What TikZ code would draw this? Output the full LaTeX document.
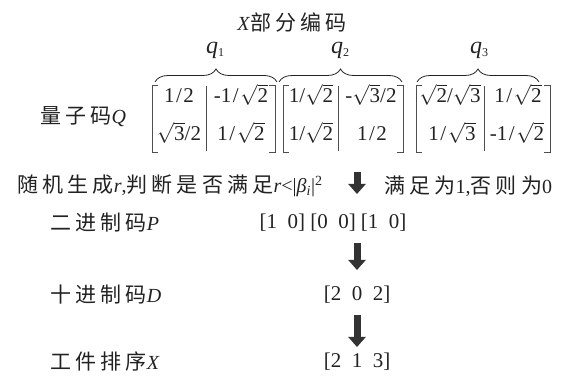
\documentclass[tikz,border=0pt]{standalone}
\usepackage{fontspec}
\setmainfont{Liberation Serif}
\newfontfamily\cjk[LetterSpace=20,Scale=1.05]{Noto Sans CJK SC}
\usetikzlibrary{decorations.pathreplacing,arrows.meta}
\definecolor{ink}{HTML}{222222}
\definecolor{arrowgray}{HTML}{333333}
\newcommand{\sq}[1]{$\sqrt{\mbox{#1}}$}
\newcommand{\sls}{\hspace{1.5pt}/\hspace{1.5pt}}
\begin{document}
\begin{tikzpicture}[x=1pt,y=-1pt,
  every node/.style={inner sep=0pt,text=ink},
  txt/.style={font=\fontsize{20}{22}\selectfont},
  val/.style={font=\fontsize{21}{24}\selectfont},
  ent/.style={font=\fontsize{21}{23}\selectfont,text height=13pt,text depth=3pt},
  ql/.style={font=\fontsize{24}{26}\selectfont},
  brk/.style={draw=ink!80,line width=0.7pt},
  brc/.style={draw=ink,line width=0.8pt,decorate,decoration={brace,amplitude=13pt}},
  bigarrow/.style={draw=arrowgray,line width=7pt,-{Triangle[width=17pt,length=10pt]}}]
\useasboundingbox (0,0) rectangle (571,379);
% title and q labels
\node[txt] (title) at (292,22) {\textit{X}{\cjk 部分编码}};
\node[ql] (q1) at (215,50) {\textit{q}{\fontsize{12}{12}\selectfont\raisebox{-3pt}{1}}};
\node[ql] (q2) at (340,50) {\textit{q}{\fontsize{12}{12}\selectfont\raisebox{-3pt}{2}}};
\node[ql] (q3) at (479,50) {\textit{q}{\fontsize{12}{12}\selectfont\raisebox{-3pt}{3}}};
% braces
\draw[brc] (155,82) -- (277,82);
\draw[brc] (279,82) -- (402,82);
\draw[brc] (417,82) -- (539,82);
% Q label
\node[txt,anchor=west] (qlab) at (40,117) {{\cjk 量子码}\textit{Q}};
% matrix 1
\draw[brk] (158,85) -- (152,85) -- (152,152) -- (158,152);
\draw[brk] (269,85) -- (275,85) -- (275,152) -- (269,152);
\draw[brk] (206,86) -- (206,151);
\node[ent] (m11) at (179,98) {1\sls 2};
\node[ent] (m12) at (241,98) {-1\sls\sq{2}};
\node[ent] (m13) at (179,136) {\sq{3}/2};
\node[ent] (m14) at (241,136) {1\sls\sq{2}};
% matrix 2
\draw[brk] (289,85) -- (283,85) -- (283,152) -- (289,152);
\draw[brk] (397,85) -- (403,85) -- (403,152) -- (397,152);
\draw[brk] (338,86) -- (338,151);
\node[ent] (m21) at (311,98) {1/\sq{2}};
\node[ent] (m22) at (371,98) {-\sq{3}/2};
\node[ent] (m23) at (311,136) {1/\sq{2}};
\node[ent] (m24) at (372,136) {1\sls 2};
% matrix 3
\draw[brk] (422,85) -- (416,85) -- (416,152) -- (422,152);
\draw[brk] (544,85) -- (550,85) -- (550,152) -- (544,152);
\draw[brk] (484,86) -- (484,151);
\node[ent] (m31) at (450,98) {\sq{2}/\sq{3}};
\node[ent] (m32) at (518,98) {1\sls\sq{2}};
\node[ent] (m33) at (452,136) {1\sls\sq{3}};
\node[ent] (m34) at (517,136) {-1\sls\sq{2}};
% step line
\node[txt,anchor=west] (rnd) at (17,186) {{\cjk 随机生成}\textit{r},{\cjk 判断是否满足}\textit{r}<|\textit{β}\textsubscript{\textit{i}}|\textsuperscript{2}};
\node[txt,anchor=west] (sat) at (384,186) {{\cjk 满足为}1,{\cjk 否则为}0};
% rows
\node[txt,anchor=west] (plab) at (50,223) {{\cjk 二进制码}\textit{P}};
\node[val] (pval) at (333,223) {[1\ \ 0] [0\ \ 0] [1\ \ 0]};
\node[txt,anchor=west] (dlab) at (50,295) {{\cjk 十进制码}\textit{D}};
\node[val] (dval) at (357,295) {[2\ \ 0\ \ 2]};
\node[txt,anchor=west] (xlab) at (50,362) {{\cjk 工件排序}\textit{X}};
\node[val] (xval) at (357,362) {[2\ \ 1\ \ 3]};
% arrows
\coordinate (a1s) at (357,172);
\coordinate (a1e) at (357,194);
\coordinate (a2s) at (357,243);
\coordinate (a2e) at (357,270);
\coordinate (a3s) at (357,315);
\coordinate (a3e) at (357,347);
\draw[bigarrow] (a1s) -- (a1e);
\draw[bigarrow] (a2s) -- (a2e);
\draw[bigarrow] (a3s) -- (a3e);
\end{tikzpicture}
\end{document}
